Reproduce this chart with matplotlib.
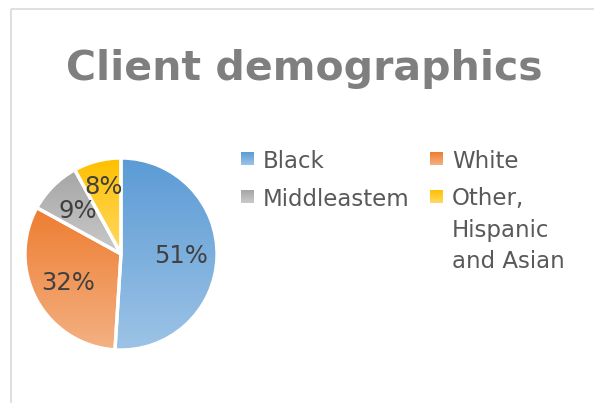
import numpy as np
from matplotlib import pyplot as plt
from matplotlib.colors import LinearSegmentedColormap
from matplotlib.patches import Rectangle

W, H = 594, 403

title = 'Client demographics'
groups = ['Black', 'White', 'Middleastem', 'Other,\nHispanic\nand Asian']
shares = [51, 32, 9, 8]
top_colors = ['#5B9BD5', '#ED7D31', '#A5A5A5', '#FFC000']
bottom_colors = ['#9DC3E6', '#F4B183', '#CACACA', '#FFD966']


def gradient_cmap(c_top, c_bottom):
    return LinearSegmentedColormap.from_list('g', [c_bottom, c_top])


grad = np.linspace(0, 1, 256).reshape(-1, 1)

fig = plt.figure(figsize=(W / 100, H / 100), dpi=100)

# overlay in pixel coordinates for border, title and legend
over = fig.add_axes([0, 0, 1, 1])
over.set_xlim(0, W)
over.set_ylim(H, 0)
over.axis('off')
over.add_patch(Rectangle((10.5, 8.5), W + 20, H + 20, facecolor='none',
                         edgecolor='#D9D9D9', linewidth=1.2))
over.text(304, 80, title, ha='center', va='baseline', fontsize=29.5,
          fontweight='bold', color='#7F7F7F')

# pie
cx, cy, r = 121, 254, 96
ax = fig.add_axes([(cx - r) / W, (H - cy - r) / H, 2 * r / W, 2 * r / H])
wedges, texts, autotexts = ax.pie(
    shares, startangle=90, counterclock=False, autopct='%.0f%%',
    pctdistance=0.63, colors=top_colors,
    wedgeprops=dict(edgecolor='white', linewidth=2.4),
    textprops=dict(fontsize=17.5, color='#404040'))
for w, ct, cb in zip(wedges, top_colors, bottom_colors):
    b = w.get_path().get_extents()
    im = ax.imshow(grad, extent=(b.x0, b.x1, b.y0, b.y1), origin='lower',
                   cmap=gradient_cmap(ct, cb), aspect='auto', zorder=1)
    im.set_clip_path(w)
    w.set_facecolor('none')
    w.set_zorder(2)
for t in autotexts:
    t.set_zorder(3)
# smallest slice label sits a little further out
px, py = autotexts[-1].get_position()
autotexts[-1].set_position((px * 1.15, py * 1.15))
ax.set_xlim(-1, 1)
ax.set_ylim(-1, 1)
ax.set_aspect('auto')
ax.axis('off')

# legend, two columns
col_x = [241, 430]
row_y = [152, 190]
line_gap = 31
for i, (name, ct, cb) in enumerate(zip(groups, top_colors, bottom_colors)):
    x = col_x[i % 2]
    y = row_y[i // 2]
    over.imshow(grad, extent=(x, x + 13, y + 13, y), origin='lower',
                cmap=gradient_cmap(ct, cb), aspect='auto')
    for k, line in enumerate(name.split('\n')):
        over.text(x + 22, y + 15.5 + k * line_gap, line, ha='left',
                  va='baseline', fontsize=16.5, color='#595959')
over.set_xlim(0, W)
over.set_ylim(H, 0)

fig.savefig('out.png', dpi=100)
